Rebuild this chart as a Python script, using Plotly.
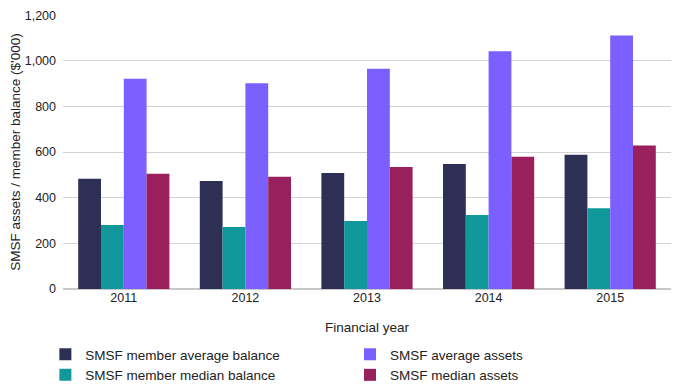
import plotly.graph_objects as go

years = ["2011", "2012", "2013", "2014", "2015"]
member_avg = [483, 473, 509, 548, 588]
member_median = [281, 272, 298, 324, 354]
avg_assets = [922, 902, 965, 1042, 1111]
median_assets = [505, 492, 535, 580, 629]

series = [
    ("SMSF member average balance", member_avg, "#2D3054", "legend"),
    ("SMSF member median balance", member_median, "#11989A", "legend"),
    ("SMSF average assets", avg_assets, "#7B5FFF", "legend2"),
    ("SMSF median assets", median_assets, "#9A1F5D", "legend2"),
]

fig = go.Figure()
for name, vals, color, lg in series:
    fig.add_trace(go.Bar(x=years, y=vals, name=name, marker=dict(color=color, line=dict(width=0)),
                         legend=lg))

font = dict(family="Liberation Sans, Arial, sans-serif", size=12.5, color="#222222")
legfont = dict(family="Liberation Sans, Arial, sans-serif", size=13.5, color="#222222")
# page body has an 8px margin, so the figure is sized to fit the 689x390 window
fig.update_layout(
    width=681, height=382,
    margin=dict(l=55, r=18, t=7, b=101, autoexpand=False),
    paper_bgcolor="white", plot_bgcolor="white",
    font=font,
    barmode="group", bargap=0.25, bargroupgap=0,
    xaxis=dict(title=dict(text="Financial year", font=dict(size=13.5), standoff=18),
               showline=True, linecolor="#c8c8c8", ticks="", showgrid=False, automargin=False,
               ticklabelstandoff=-3),
    yaxis=dict(title=dict(text="SMSF assets / member balance ($'000)", font=dict(size=13.5), standoff=6),
               range=[0, 1201], tickvals=[0, 200, 400, 600, 800, 1000, 1200], tickformat=",",
               showgrid=True, gridcolor="#d3d3d3", ticklabeloverflow="allow",
               zeroline=True, zerolinecolor="#c8c8c8", ticks="", ticklabelstandoff=6, automargin=False),
    legend=dict(x=-0.029, xref="paper", y=0.1335, yref="container", yanchor="top", orientation="v",
                font=legfont, tracegroupgap=0, bgcolor="rgba(0,0,0,0)"),
    legend2=dict(x=0.472, xref="paper", y=0.1335, yref="container", yanchor="top", orientation="v",
                 font=legfont, tracegroupgap=0, bgcolor="rgba(0,0,0,0)"),
)

fig.write_html("out.html")
